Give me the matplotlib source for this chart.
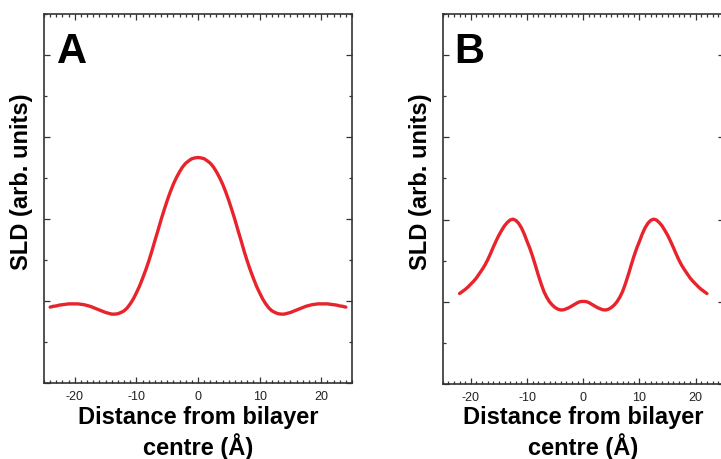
import numpy as np
import matplotlib
matplotlib.use("Agg")
import matplotlib.pyplot as plt
from matplotlib.ticker import MultipleLocator

plt.rcParams['font.family'] = ['Liberation Sans', 'DejaVu Sans']

# Panel A: SLD profile (arb. units) vs distance from bilayer centre (Å), 0.5 Å steps
dist_a = np.arange(-24, 24.25, 0.5)
sld_a = [1.85, 1.87, 1.88, 1.90, 1.91, 1.92, 1.93, 1.93, 1.93, 1.93,
         1.92, 1.91, 1.89, 1.87, 1.84, 1.81, 1.78, 1.75, 1.72, 1.70,
         1.68, 1.68, 1.69, 1.72, 1.76, 1.83, 1.93, 2.05, 2.20, 2.36,
         2.55, 2.75, 2.97, 3.21, 3.47, 3.72, 3.98, 4.22, 4.45, 4.66,
         4.85, 5.01, 5.15, 5.27, 5.36, 5.42, 5.47, 5.49,
         5.50, 5.49, 5.47, 5.42, 5.36, 5.27, 5.15, 5.01, 4.85, 4.66,
         4.45, 4.22, 3.98, 3.72, 3.47, 3.21, 2.97, 2.75, 2.55, 2.36,
         2.20, 2.05, 1.93, 1.83, 1.76, 1.72, 1.69, 1.68, 1.68, 1.70,
         1.72, 1.75, 1.78, 1.81, 1.84, 1.87, 1.89, 1.91, 1.92, 1.93,
         1.93, 1.93, 1.93, 1.92, 1.91, 1.90, 1.88, 1.87, 1.85]

# Panel B
dist_b = np.arange(-22, 22.25, 0.5)
sld_b = [2.20, 2.25, 2.30, 2.36, 2.43, 2.50, 2.58, 2.68, 2.78, 2.89,
         3.02, 3.17, 3.33, 3.48, 3.62, 3.74, 3.85, 3.93, 3.99, 4.01,
         3.98, 3.91, 3.80, 3.65, 3.47, 3.30, 3.10, 2.88, 2.65, 2.44,
         2.25, 2.11, 2.00, 1.92, 1.86, 1.82, 1.80, 1.805, 1.83, 1.86,
         1.90, 1.94, 1.98, 2.005,
         2.01, 2.005, 1.98, 1.94, 1.90, 1.86, 1.83, 1.805, 1.80, 1.82,
         1.86, 1.92, 2.00, 2.11, 2.25, 2.44, 2.65, 2.88, 3.10, 3.30,
         3.47, 3.65, 3.80, 3.91, 3.98, 4.01, 3.99, 3.93, 3.85, 3.74,
         3.62, 3.48, 3.33, 3.17, 3.02, 2.89, 2.78, 2.68, 2.58, 2.50,
         2.43, 2.36, 2.30, 2.25, 2.20]

panel_labels = ["A", "B"]
xlabel = "Distance from bilayer\ncentre (Å)"
ylabel = "SLD (arb. units)"
xticks = [-20, -10, 0, 10, 20]

W, H = 721, 460
fig = plt.figure(figsize=(W / 100, H / 100), dpi=100)

def frac(l, t, r, b):
    return [l / W, 1 - b / H, (r - l) / W, (b - t) / H]

axA = fig.add_axes(frac(44, 15, 352, 384))
axB = fig.add_axes(frac(442.7, 15, 723.8, 385))

red = '#e8232b'
spine_c = '#333333'

for ax, x, y, lab in [(axA, dist_a, sld_a, panel_labels[0]),
                      (axB, dist_b, sld_b, panel_labels[1])]:
    ax.plot(x, y, color=red, lw=2.4, solid_capstyle='round', solid_joinstyle='round')
    ax.set_xlim(-25, 25)
    ax.set_ylim(0, 9)
    ax.set_xticks(xticks)
    ax.set_xticklabels([str(v) for v in xticks])
    ax.xaxis.set_minor_locator(MultipleLocator(1))
    ax.set_yticks([0, 2, 4, 6, 8])
    ax.yaxis.set_minor_locator(MultipleLocator(1))
    ax.set_yticklabels([])
    ax.tick_params(which='both', direction='in', top=True, right=True,
                   color=spine_c, width=0.9)
    ax.tick_params(which='major', length=4)
    ax.tick_params(which='minor', length=2)
    ax.tick_params(axis='x', which='major', labelsize=9, pad=5, labelcolor='#222222')
    for s in ax.spines.values():
        s.set_color(spine_c)
        s.set_linewidth(1.2)
    ax.text(0.042, 0.87, lab, transform=ax.transAxes, fontsize=30,
            fontweight='bold', ha='left', va='baseline')
    bb = ax.get_position()
    # x label (two lines), centred under axes
    fig.text(bb.x0 + bb.width / 2, 1 - 433 / H, xlabel, ha='center', va='center',
             fontsize=17, fontweight='bold', linespacing=1.15)
    # y label
    xc = bb.x0 - 22 / W
    yc = 1 - 182 / H
    fig.text(xc, yc, ylabel, rotation=90, ha='center', va='center',
             fontsize=17, fontweight='bold')

fig.savefig("out.png", dpi=100)
